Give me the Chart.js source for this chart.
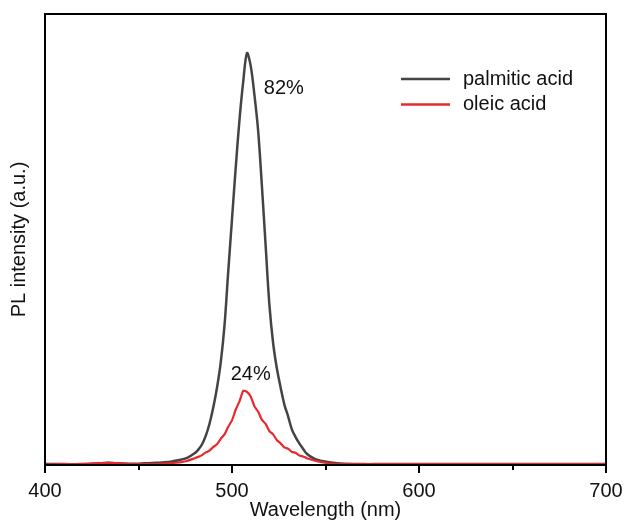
<!DOCTYPE html>
<html>
<head>
<meta charset="utf-8">
<script src="https://cdn.jsdelivr.net/npm/chart.js@4/dist/chart.umd.min.js"></script>
<style>
  html, body { margin: 0; padding: 0; background: #fff; }
  #wrap { width: 630px; height: 520px; position: relative; }
</style>
</head>
<body>
<div id="wrap"><canvas id="c" width="630" height="520"></canvas></div>
<script>
// ---- data ----
const wavelengths = [400,410,420,430,434,438,445,450,455,460,464,468,472,476,480,482,484,486,488,490,492,494,496,498,500,502,504,506,508,510,512,514,516,518,520,522,524,526,528,530,532,534,536,538,540,544,548,552,556,560,570,580,600,620,650,700];
const palmiticAcid = [0.002,0.002,0.002,0.004,0.005,0.004,0.003,0.003,0.004,0.005,0.006,0.008,0.011,0.016,0.026,0.034,0.046,0.065,0.092,0.128,0.172,0.228,0.310,0.430,0.545,0.660,0.765,0.850,0.913,0.885,0.820,0.740,0.618,0.486,0.355,0.270,0.214,0.172,0.134,0.108,0.079,0.062,0.048,0.036,0.025,0.014,0.009,0.006,0.004,0.003,0.002,0.002,0.002,0.002,0.002,0.002];
const oleicAcid = [0.001,0.002,0.002,0.004,0.005,0.004,0.002,0.002,0.002,0.002,0.003,0.004,0.006,0.009,0.015,0.018,0.022,0.028,0.032,0.040,0.046,0.058,0.068,0.085,0.099,0.123,0.141,0.165,0.162,0.152,0.130,0.118,0.100,0.091,0.075,0.068,0.055,0.048,0.039,0.036,0.029,0.027,0.021,0.019,0.015,0.010,0.006,0.003,0.002,0.002,0.002,0.002,0.002,0.002,0.002,0.002];
const seriesNames = ['palmitic acid', 'oleic acid'];
const quantumYields = ['82%', '24%'];
const yieldLabelAt = [[517, 0.834], [510, 0.200]]; // [wavelength, intensity]
const xTickValues = [400, 500, 600, 700];

const FONT = '"Liberation Sans", Arial, sans-serif';
const GRAY = '#444444';
const RED = '#e8292d';

const framePlugin = {
  id: 'frame',
  afterDraw(chart) {
    const {ctx, chartArea: a, scales: {x, y}} = chart;
    ctx.save();
    ctx.strokeStyle = '#000';
    ctx.lineWidth = 2;
    for (let v = 400; v <= 700; v += 50) {
      const px = Math.round(x.getPixelForValue(v));
      const len = xTickValues.includes(v) ? 8 : 5;
      ctx.beginPath();
      ctx.moveTo(px, a.bottom);
      ctx.lineTo(px, a.bottom + len);
      ctx.stroke();
    }
    ctx.strokeRect(a.left, a.top, a.right - a.left, a.bottom - a.top);
    ctx.fillStyle = '#111';
    ctx.font = '20px ' + FONT;
    ctx.textBaseline = 'middle';
    ctx.textAlign = 'left';
    ctx.fillText(quantumYields[0], x.getPixelForValue(yieldLabelAt[0][0]), y.getPixelForValue(yieldLabelAt[0][1]));
    ctx.textAlign = 'center';
    ctx.fillText(quantumYields[1], x.getPixelForValue(yieldLabelAt[1][0]), y.getPixelForValue(yieldLabelAt[1][1]));
    const colors = [GRAY, RED];
    const lx = a.left + 356, ly = a.top + 65;
    ctx.textAlign = 'left';
    seriesNames.forEach((name, i) => {
      const yy = ly + i * 25.5;
      ctx.strokeStyle = colors[i];
      ctx.lineWidth = 2.5;
      ctx.beginPath();
      ctx.moveTo(lx, yy);
      ctx.lineTo(lx + 49, yy);
      ctx.stroke();
      ctx.fillStyle = '#111';
      ctx.fillText(name, lx + 62, yy);
    });
    ctx.restore();
  }
};

new Chart(document.getElementById('c'), {
  type: 'line',
  data: {
    datasets: [
      { label: seriesNames[0], data: wavelengths.map((w, i) => ({x: w, y: palmiticAcid[i]})),
        borderColor: GRAY, borderWidth: 2.5, pointRadius: 0, tension: 0.35, order: 1 },
      { label: seriesNames[1], data: wavelengths.map((w, i) => ({x: w, y: oleicAcid[i]})),
        borderColor: RED, borderWidth: 2.2, pointRadius: 0, tension: 0.1, order: 0 }
    ]
  },
  options: {
    responsive: false,
    animation: false,
    layout: { padding: { top: 14, right: 24, left: 0, bottom: 0 } },
    plugins: { legend: { display: false }, tooltip: { enabled: false } },
    scales: {
      x: {
        type: 'linear', min: 400, max: 700,
        afterFit(s) { s.height = 55; s.paddingLeft = 0; s.paddingRight = 0; },
        border: { display: false },
        grid: { display: false, drawTicks: false },
        ticks: {
          stepSize: 100, color: '#111', padding: 14, maxRotation: 0,
          font: { family: FONT, size: 20 },
          callback: v => xTickValues.includes(v) ? String(v) : ''
        },
        title: { display: true, text: 'Wavelength (nm)', color: '#111',
          font: { family: FONT, size: 20, lineHeight: 1 }, padding: { top: 0, bottom: 0 } }
      },
      y: {
        min: 0, max: 1,
        afterFit(s) { s.width = 45; },
        border: { display: false },
        grid: { display: false, drawTicks: false },
        ticks: { display: false },
        title: { display: true, text: 'PL intensity (a.u.)', color: '#111',
          font: { family: FONT, size: 20 }, padding: { top: 7, bottom: 0 } }
      }
    }
  },
  plugins: [framePlugin]
});
</script>
</body>
</html>
